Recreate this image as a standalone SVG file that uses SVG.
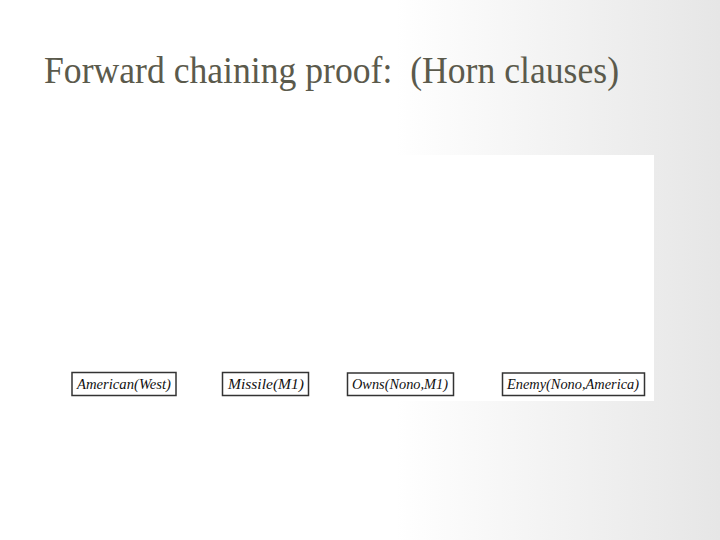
<svg xmlns="http://www.w3.org/2000/svg" width="720" height="540" viewBox="0 0 720 540">
<defs>
<linearGradient id="bg" x1="0" y1="0" x2="1" y2="0">
<stop offset="0" stop-color="#ffffff"/>
<stop offset="0.55" stop-color="#ffffff"/>
<stop offset="1" stop-color="#e6e6e6"/>
</linearGradient>
<style>
.title{font-family:"Liberation Serif",serif;font-size:38px;fill:#5b5a4c;white-space:pre}
.box{fill:#ffffff;stroke:#333333;stroke-width:1.5}
.lbl{font-family:"Liberation Serif",serif;font-style:italic;font-size:15px;fill:#111111}
</style>
</defs>
<rect x="0" y="0" width="720" height="540" fill="url(#bg)"/>
<text class="title" x="44" y="83" textLength="575" lengthAdjust="spacingAndGlyphs" xml:space="preserve">Forward chaining proof:  (Horn clauses)</text>
<rect x="60" y="155" width="594" height="246" fill="#ffffff"/>
<g id="connectors"></g>
<g id="american">
<rect class="box" x="72" y="372.5" width="104" height="23"/>
<text class="lbl" x="124" y="389" text-anchor="middle" textLength="94" lengthAdjust="spacingAndGlyphs">American(West)</text>
</g>
<g id="missile">
<rect class="box" x="222.5" y="372.5" width="86" height="23"/>
<text class="lbl" x="266" y="389" text-anchor="middle" textLength="76" lengthAdjust="spacingAndGlyphs">Missile(M1)</text>
</g>
<g id="owns">
<rect class="box" x="347.5" y="373" width="106" height="22.5"/>
<text class="lbl" x="400" y="389" text-anchor="middle" textLength="96" lengthAdjust="spacingAndGlyphs">Owns(Nono,M1)</text>
</g>
<g id="enemy">
<rect class="box" x="502.5" y="373" width="142" height="22.5"/>
<text class="lbl" x="573" y="389" text-anchor="middle" textLength="132" lengthAdjust="spacingAndGlyphs">Enemy(Nono,America)</text>
</g>
</svg>
